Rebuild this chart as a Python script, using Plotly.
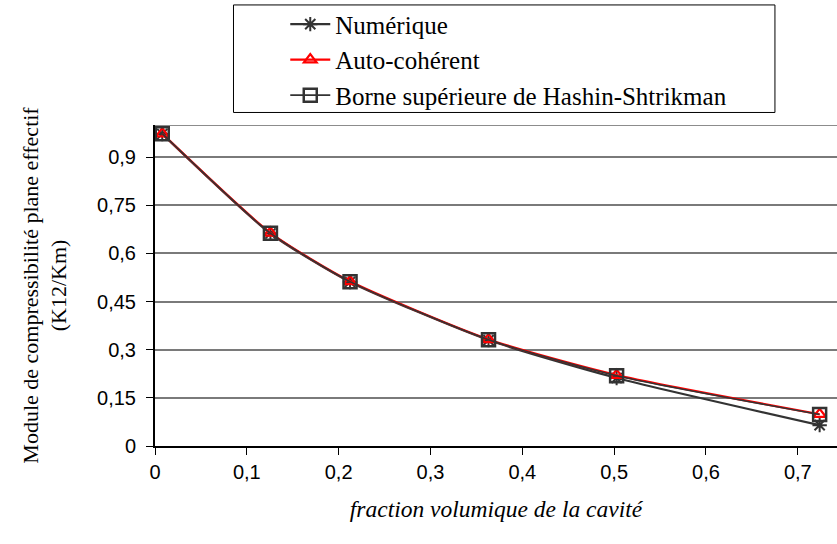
import plotly.graph_objects as go

# Fraction volumique de la cavité
fraction = [0.0079, 0.1257, 0.2124, 0.3632, 0.5027, 0.7238]

# K12/Km pour chaque modèle
numerique = [0.972, 0.662, 0.511, 0.330, 0.212, 0.065]
auto_coherent = [0.973, 0.664, 0.513, 0.332, 0.221, 0.099]
hashin_shtrikman = [0.973, 0.663, 0.512, 0.331, 0.219, 0.098]

y_ticks = [0, 0.15, 0.3, 0.45, 0.6, 0.75, 0.9]
x_ticks = [0, 0.1, 0.2, 0.3, 0.4, 0.5, 0.6, 0.7]

serif = "Times New Roman, Liberation Serif, serif"
sans = "Arial, Liberation Sans, sans-serif"

fig = go.Figure()

fig.add_trace(go.Scatter(
    x=fraction, y=numerique, name="Numérique", legendgroup="a",
    mode="lines+markers",
    line=dict(color="#333333", width=2.2, shape="spline", smoothing=0.6),
    marker=dict(symbol="asterisk-open", size=12, color="#333333",
                line=dict(color="#333333", width=2)),
))
fig.add_trace(go.Scatter(
    x=fraction, y=auto_coherent, name="Auto-cohérent", legendgroup="b",
    mode="lines+markers",
    line=dict(color="#ff0000", width=2.2, shape="spline", smoothing=0.6),
    marker=dict(symbol="triangle-up-open", size=11, color="#ff0000",
                line=dict(color="#ff0000", width=2.2)),
))
fig.add_trace(go.Scatter(
    x=fraction, y=hashin_shtrikman, name="Borne supérieure de Hashin-Shtrikman",
    legendgroup="c",
    mode="lines+markers",
    line=dict(color="#333333", width=1.6, shape="spline", smoothing=0.6),
    marker=dict(symbol="square-open", size=13, color="#333333",
                line=dict(color="#333333", width=2.5)),
))

# cadre de la légende
fig.add_shape(type="rect", xref="paper", yref="paper",
              x0=0.1151, x1=0.909, y0=1.039, y1=1.374,
              line=dict(color="black", width=1), fillcolor="white", layer="below")

# bord supérieur de la zone de tracé
fig.add_shape(type="line", xref="paper", yref="y", x0=0, x1=1, y0=1.0, y1=1.0,
              line=dict(color="#8c8c8c", width=2), layer="below")

fig.update_layout(
    width=837, height=544,
    margin=dict(l=155, r=0, t=125, b=98),
    paper_bgcolor="white", plot_bgcolor="white",
    separators=", ",
    showlegend=True,
    legend=dict(
        x=0.191, y=1.385, xanchor="left", yanchor="top",
        borderwidth=0, bgcolor="rgba(0,0,0,0)",
        font=dict(family=serif, size=25, color="black"),
        traceorder="grouped", tracegroupgap=0, itemwidth=40,
    ),
    xaxis=dict(
        range=[0, 0.7427], tickvals=x_ticks,
        showgrid=False, zeroline=False,
        showline=True, linecolor="black", linewidth=2,
        ticks="outside", ticklen=7, tickcolor="black", tickwidth=1,
        tickfont=dict(family=sans, size=20, color="black"),
        title=dict(text="<i>fraction volumique de la cavité</i>",
                   font=dict(family=serif, size=23.5, color="black"), standoff=19),
    ),
    yaxis=dict(
        range=[0, 1.0], tickvals=y_ticks,
        showgrid=True, gridcolor="#7a7a7a", gridwidth=1.5,
        zeroline=False,
        showline=True, linecolor="black", linewidth=2,
        ticks="outside", ticklen=7, tickcolor="black", tickwidth=1,
        ticklabelstandoff=6,
        tickfont=dict(family=sans, size=20, color="black"),
        title=dict(text="Module de compressibilité plane effectif<br>(K12/Km)",
                   font=dict(family=serif, size=22, color="black"), standoff=24),
    ),
)

fig.write_html("out.html")
